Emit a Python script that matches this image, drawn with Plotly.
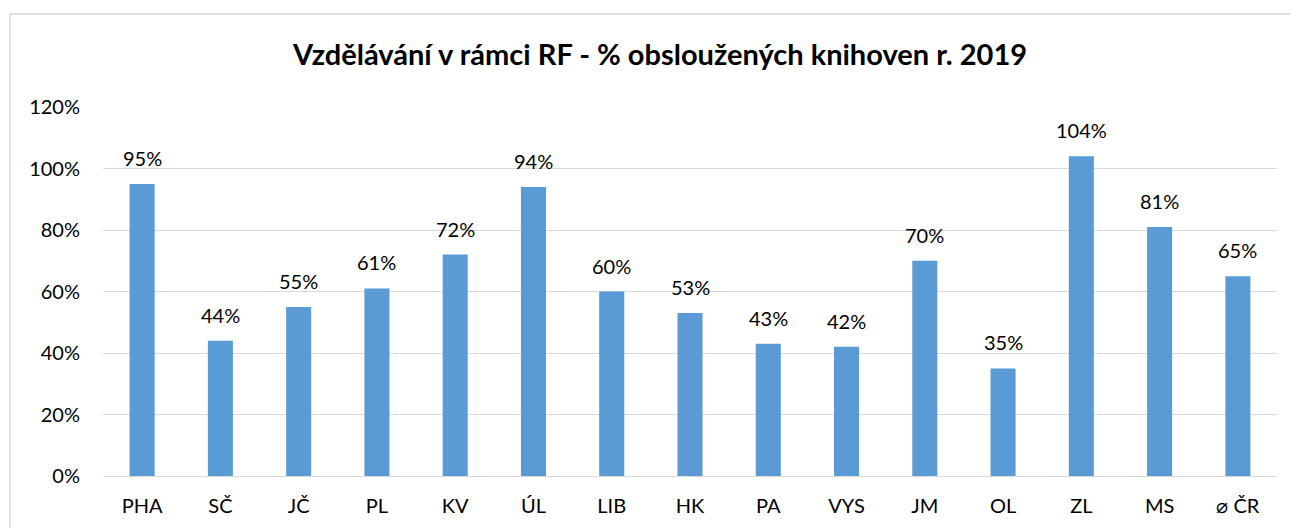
import plotly.graph_objects as go

categories = ["PHA", "SČ", "JČ", "PL", "KV", "ÚL", "LIB", "HK", "PA", "VYS", "JM", "OL", "ZL", "MS", "⌀ ČR"]
values = [95, 44, 55, 61, 72, 94, 60, 53, 43, 42, 70, 35, 104, 81, 65]
tick_vals = [0, 20, 40, 60, 80, 100, 120]
tick_text = [f"{v}%" for v in tick_vals]
title = "Vzdělávání v rámci RF - % obsloužených knihoven r. 2019"

# page body has an 8px margin; the figure is sized to fit the window
W, H = 1290, 520
L, R, T, B = 95, 21, 99, 52
pw, ph = W - L - R, H - T - B
FONT = "Lato, Open Sans, sans-serif"

fig = go.Figure(go.Bar(
    x=categories, y=values,
    marker=dict(color="#5B9BD5", line=dict(width=0)),
    hoverinfo="x+y",
))

for c, v in zip(categories, values):
    fig.add_annotation(x=c, y=v, text=f"{v}%", showarrow=False,
                       xanchor="center", yanchor="bottom", yshift=12,
                       font=dict(size=20, color="#000000", family=FONT))

fig.update_layout(
    template="none",
    width=W, height=H,
    margin=dict(l=L, r=R, t=T, b=B, autoexpand=False),
    paper_bgcolor="white", plot_bgcolor="white",
    bargap=0.68,
    showlegend=False,
    font=dict(family=FONT, size=20, color="#000000"),
    title=dict(text="<b>" + title + "</b>", x=652 / W, xref="container", xanchor="center",
               y=1 - 47 / H, yref="container", yanchor="middle",
               font=dict(size=29, color="#000000")),
    xaxis=dict(showgrid=False, showline=False, ticks="", tickfont=dict(size=20),
               ticklabelstandoff=16, automargin=False, zeroline=False),
    yaxis=dict(range=[0, 120], tickvals=tick_vals, ticktext=tick_text,
               showgrid=True, gridcolor="#d9d9d9", gridwidth=1,
               zeroline=True, zerolinecolor="#d9d9d9", zerolinewidth=1,
               showline=False, ticks="", tickfont=dict(size=20), ticklabelstandoff=22,
               automargin=False),
)

fig.add_shape(type="rect", xref="paper", yref="paper",
              x0=(2 - L) / pw, x1=(W + 20 - L) / pw,
              y0=-(H + 20 - (T + ph)) / ph, y1=1 + (T - 6) / ph,
              line=dict(color="#d9d9d9", width=1.5), fillcolor="rgba(0,0,0,0)", layer="below")

fig.write_html("out.html")
